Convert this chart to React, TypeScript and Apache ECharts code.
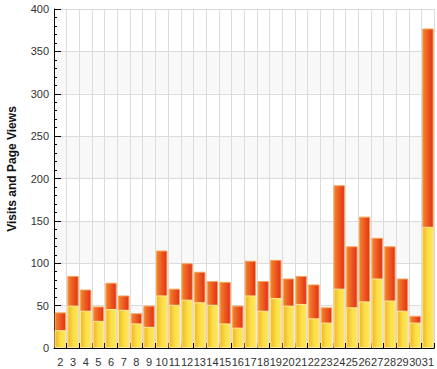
import React, { useEffect, useRef } from "react";
import * as echarts from "echarts";

const days = ["2","3","4","5","6","7","8","9","10","11","12","13","14","15","16","17","18","19","20","21","22","23","24","25","26","27","28","29","30","31"];
const visits = [21,50,44,32,46,45,29,25,62,51,57,54,51,29,24,62,44,59,50,52,35,30,70,48,55,82,56,44,30,143];
const pageViews = [42,85,69,49,77,62,41,50,115,70,100,90,79,78,50,103,79,104,82,85,75,48,192,120,155,130,120,82,38,377];
const yTitle = "Visits and Page Views";

export default function App() {
  const ref = useRef<HTMLDivElement>(null);
  useEffect(() => {
    if (!ref.current) return;
    const chart = echarts.init(ref.current, null, { renderer: "svg" });
    const font = "'Liberation Sans', Arial, sans-serif";
    chart.setOption({
      animation: false,
      grid: { left: 54, right: 0, top: 9, bottom: 21 },
      xAxis: {
        type: "category",
        data: days,
        boundaryGap: true,
        axisLine: { show: true, lineStyle: { color: "#000", width: 1 } },
        axisTick: { show: true, inside: true, length: 5, lineStyle: { color: "#000" } },
        axisLabel: { color: "#333", fontSize: 11, fontFamily: font, margin: 8, interval: 0 },
        splitLine: { show: true, lineStyle: { color: "#dcdcdc", width: 1 } },
      },
      yAxis: {
        type: "value",
        min: 0,
        max: 400,
        interval: 50,
        axisLine: { show: true, lineStyle: { color: "#000", width: 1 } },
        axisTick: { show: true, inside: true, length: 7, lineStyle: { color: "#000" } },
        minorTick: { show: true, splitNumber: 5, length: 3, lineStyle: { color: "#000" } },
        axisLabel: { color: "#333", fontSize: 11, fontFamily: font, margin: 5 },
        splitLine: { show: true, lineStyle: { color: "#dcdcdc", width: 1 } },
        splitArea: { show: true, areaStyle: { color: ["#f8f8f8", "#ffffff"] } },
      },
      graphic: [
        {
          type: "text",
          x: 12,
          y: 169,
          rotation: Math.PI / 2,
          style: {
            text: yTitle,
            font: `bold 12px ${font}`,
            fill: "#111",
            align: "center",
            verticalAlign: "middle",
          },
        },
      ],
      series: [
        {
          name: "Page Views",
          type: "bar",
          data: pageViews,
          barCategoryGap: "10%",
          itemStyle: {
            color: new echarts.graphic.LinearGradient(0, 0, 1, 0, [
              { offset: 0, color: "#f2862a" },
              { offset: 0.5, color: "#ec5a1f" },
              { offset: 1, color: "#e2301a" },
            ]),
            borderColor: "#f6a55a",
            borderWidth: 1,
          },
        },
        {
          name: "Visits",
          type: "bar",
          data: visits,
          barGap: "-100%",
          barCategoryGap: "10%",
          itemStyle: {
            color: new echarts.graphic.LinearGradient(0, 0, 1, 0, [
              { offset: 0, color: "#f2b520" },
              { offset: 0.55, color: "#fbe04a" },
              { offset: 1, color: "#fde657" },
            ]),
            borderColor: "#ffe89a",
            borderWidth: 1,
          },
        },
      ],
    });
    return () => chart.dispose();
  }, []);
  return (
    <div
      ref={ref}
      style={{ position: "fixed", left: 0, top: 0, width: 437, height: 369, background: "#fff" }}
    />
  );
}
